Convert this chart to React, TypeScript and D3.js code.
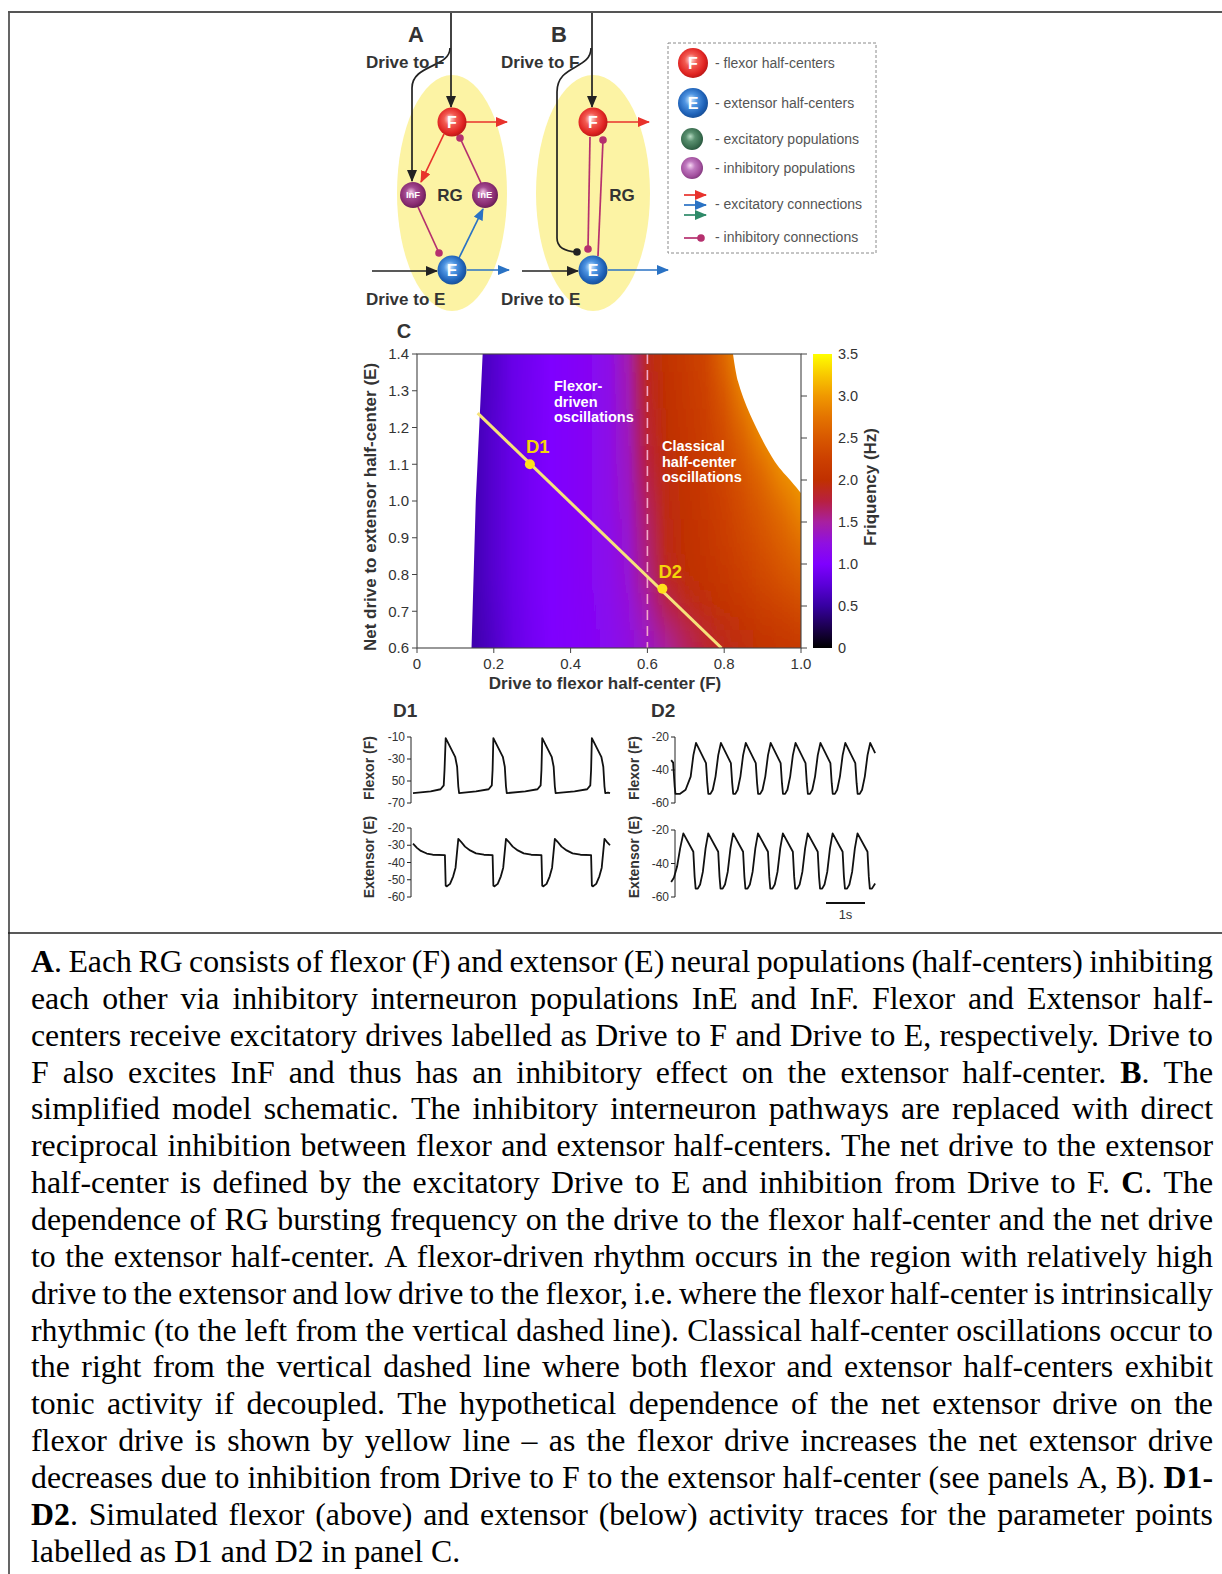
import React from 'react';
import * as d3 from 'd3';

// ---------------- Panel C data ----------------
const X_COLS = [0.15, 0.2, 0.25, 0.3, 0.35, 0.4, 0.45, 0.5, 0.55, 0.6, 0.65, 0.7, 0.75, 0.8, 0.85, 0.9, 0.95, 1.0];
const Y_ROWS = [1.4, 1.3, 1.2, 1.1, 1.0, 0.9, 0.8, 0.7, 0.6];
const FREQ_140 = [0.6, 0.7, 0.85, 0.92, 1.0, 1.05, 1.1, 1.2, 1.45, 1.9, 2.05, 2.15, 2.3, 2.65, 3.0, 3.1, 3.2, 3.3];
const FREQ_130 = [0.6, 0.7, 0.85, 0.93, 1.0, 1.05, 1.1, 1.2, 1.42, 1.85, 2.0, 2.12, 2.25, 2.5, 2.85, 3.05, 3.15, 3.25];
const FREQ_120 = [0.6, 0.72, 0.85, 0.93, 1.0, 1.05, 1.1, 1.2, 1.4, 1.8, 1.98, 2.1, 2.2, 2.4, 2.65, 2.95, 3.05, 3.15];
const FREQ_110 = [0.6, 0.72, 0.85, 0.94, 1.0, 1.05, 1.1, 1.2, 1.38, 1.75, 1.95, 2.07, 2.17, 2.32, 2.5, 2.7, 2.95, 3.05];
const FREQ_100 = [0.6, 0.72, 0.85, 0.94, 1.0, 1.05, 1.1, 1.2, 1.35, 1.68, 1.92, 2.03, 2.12, 2.25, 2.4, 2.55, 2.72, 2.92];
const FREQ_090 = [0.6, 0.72, 0.85, 0.94, 1.0, 1.05, 1.1, 1.18, 1.32, 1.62, 1.9, 2.0, 2.08, 2.2, 2.32, 2.45, 2.58, 2.72];
const FREQ_080 = [0.6, 0.72, 0.85, 0.94, 1.0, 1.05, 1.1, 1.17, 1.3, 1.58, 1.88, 1.98, 2.05, 2.13, 2.23, 2.34, 2.45, 2.55];
const FREQ_070 = [0.58, 0.7, 0.84, 0.93, 1.0, 1.04, 1.08, 1.15, 1.27, 1.45, 1.7, 1.86, 1.96, 2.03, 2.1, 2.18, 2.26, 2.33];
const FREQ_060 = [0.56, 0.68, 0.83, 0.92, 0.99, 1.03, 1.07, 1.13, 1.24, 1.35, 1.5, 1.65, 1.78, 1.88, 1.95, 2.02, 2.08, 2.12];
const FREQ_GRID = [FREQ_140, FREQ_130, FREQ_120, FREQ_110, FREQ_100, FREQ_090, FREQ_080, FREQ_070, FREQ_060];

// white (no oscillation) regions: [x, y]
const LEFT_EDGE: [number, number][] = [[0.142, 0.6], [0.153, 1.0], [0.171, 1.4]];
const UPPER_EDGE: [number, number][] = [[0.823, 1.4], [0.836, 1.325], [0.868, 1.234], [0.932, 1.107], [0.976, 1.052], [1.0, 1.022]];
const YELLOW_LINE: [number, number][] = [[0.158, 1.239], [0.793, 0.6]];
const D_POINTS = [
  { name: 'D1', x: 0.294, y: 1.1 },
  { name: 'D2', x: 0.639, y: 0.761 },
];
const DASH_X = 0.6;
const X_TICKS = [0, 0.2, 0.4, 0.6, 0.8, 1.0];
const X_TICK_LABELS = ['0', '0.2', '0.4', '0.6', '0.8', '1.0'];
const Y_TICKS = [0.6, 0.7, 0.8, 0.9, 1.0, 1.1, 1.2, 1.3, 1.4];
const CB_TICKS = [0, 0.5, 1.0, 1.5, 2.0, 2.5, 3.0, 3.5];
const CB_TICK_LABELS = ['0', '0.5', '1.0', '1.5', '2.0', '2.5', '3.0', '3.5'];
const CMAP_VALUES = [0, 0.25, 0.5, 0.75, 1.0, 1.25, 1.5, 1.75, 2.0, 2.25, 2.5, 2.75, 3.0, 3.25, 3.5];
const CMAP_COLORS = ['#000000', '#1c0050', '#3600a0', '#5a00d8', '#7f00ff', '#9010e0', '#a820a0', '#b82040',
  '#c03000', '#cc4000', '#d85800', '#e47400', '#f09800', '#f8c800', '#ffff00'];

// ---------------- Panel D data (t in s, v in mV) ----------------
const D1_FLEXOR: [number, number][] = [
  [0, -61], [0.45, -59.5], [0.7, -57.5], [0.78, -54], [0.8, -40], [0.83, -11], [1.07, -28], [1.12, -37], [1.15, -55], [1.17, -61],
  [1.6, -59.5], [1.92, -57.5], [2.0, -54], [2.02, -40], [2.04, -11], [2.28, -28], [2.33, -37], [2.36, -55], [2.38, -61],
  [2.85, -59.5], [3.16, -57.5], [3.24, -54], [3.26, -40], [3.28, -11], [3.52, -28], [3.57, -37], [3.6, -55], [3.62, -61],
  [4.1, -59.5], [4.42, -57.5], [4.5, -54], [4.52, -40], [4.54, -11], [4.78, -28], [4.83, -37], [4.86, -55], [4.88, -61],
  [4.95, -60.5], [5.0, -61],
];
const D1_EXTENSOR: [number, number][] = [
  [0, -29], [0.1, -31.5], [0.2, -33.3], [0.35, -34.8], [0.5, -35.5], [0.81, -35.7],
  [0.83, -53.5], [0.86, -53.8], [0.94, -52.4], [1.02, -48], [1.08, -43], [1.15, -26.3], [1.22, -28], [1.32, -30.8], [1.45, -33], [1.6, -34.7], [1.8, -35.5], [2.02, -35.7],
  [2.04, -53.5], [2.07, -53.8], [2.15, -52.4], [2.23, -48], [2.29, -43], [2.36, -26.3], [2.43, -28], [2.53, -30.8], [2.66, -33], [2.81, -34.7], [3.0, -35.5], [3.26, -35.7],
  [3.28, -53.5], [3.31, -53.8], [3.39, -52.4], [3.47, -48], [3.53, -43], [3.6, -26.3], [3.67, -28], [3.77, -30.8], [3.9, -33], [4.05, -34.7], [4.25, -35.5], [4.52, -35.7],
  [4.54, -53.5], [4.57, -53.8], [4.65, -52.4], [4.73, -48], [4.79, -43], [4.86, -26.3], [4.92, -28], [5.0, -30],
];
const D2_FLEXOR: [number, number][] = [
  [0.03, -34], [0.08, -35.5], [0.12, -50], [0.14, -54.5], [0.25, -54.5], [0.4, -52], [0.53, -44], [0.6, -31], [0.667, -23.6],
  [0.923, -35.8], [0.957, -48], [0.983, -54.5], [1.037, -54.5], [1.097, -52], [1.167, -44], [1.237, -31], [1.305, -23.6],
  [1.561, -35.8], [1.595, -48], [1.621, -54.5], [1.675, -54.5], [1.735, -52], [1.805, -44], [1.875, -31], [1.943, -23.6],
  [2.199, -35.8], [2.233, -48], [2.259, -54.5], [2.313, -54.5], [2.373, -52], [2.443, -44], [2.513, -31], [2.581, -23.6],
  [2.837, -35.8], [2.871, -48], [2.897, -54.5], [2.951, -54.5], [3.011, -52], [3.081, -44], [3.151, -31], [3.219, -23.6],
  [3.475, -35.8], [3.509, -48], [3.535, -54.5], [3.589, -54.5], [3.649, -52], [3.719, -44], [3.789, -31], [3.857, -23.6],
  [4.113, -35.8], [4.147, -48], [4.173, -54.5], [4.227, -54.5], [4.287, -52], [4.357, -44], [4.427, -31], [4.495, -23.6],
  [4.751, -35.8], [4.785, -48], [4.811, -54.5], [4.865, -54.5], [4.925, -52], [4.995, -44], [5.065, -31], [5.133, -23.6],
  [5.26, -29.8],
];
const D2_EXTENSOR: [number, number][] = [
  [0.03, -51], [0.1, -48.5], [0.18, -42], [0.26, -31], [0.342, -22],
  [0.598, -33], [0.632, -48], [0.658, -55], [0.712, -55], [0.772, -52.5], [0.842, -45], [0.912, -31], [0.98, -22],
  [1.236, -33], [1.27, -48], [1.296, -55], [1.35, -55], [1.41, -52.5], [1.48, -45], [1.55, -31], [1.618, -22],
  [1.874, -33], [1.908, -48], [1.934, -55], [1.988, -55], [2.048, -52.5], [2.118, -45], [2.188, -31], [2.256, -22],
  [2.512, -33], [2.546, -48], [2.572, -55], [2.626, -55], [2.686, -52.5], [2.756, -45], [2.826, -31], [2.894, -22],
  [3.15, -33], [3.184, -48], [3.21, -55], [3.264, -55], [3.324, -52.5], [3.394, -45], [3.464, -31], [3.532, -22],
  [3.788, -33], [3.822, -48], [3.848, -55], [3.902, -55], [3.962, -52.5], [4.032, -45], [4.102, -31], [4.17, -22],
  [4.426, -33], [4.46, -48], [4.486, -55], [4.54, -55], [4.6, -52.5], [4.67, -45], [4.74, -31], [4.808, -22],
  [5.064, -33], [5.098, -48], [5.124, -55], [5.178, -55], [5.26, -52],
];
const D1_FLEX_TICKS = [-10, -30, -50, -70];
const D1_FLEX_TICK_LABELS = ['-10', '-30', '50', '-70'];
const D1_EXT_TICKS = [-20, -30, -40, -50, -60];
const D2_TICKS = [-20, -40, -60];
const SCALE_BAR_S = [4.0, 5.0];

// ---------------- Caption ----------------
const CAPTION_LINES = [
  '**A**. Each RG consists of flexor (F) and extensor (E) neural populations (half-centers) inhibiting',
  'each other via inhibitory interneuron populations InE and InF. Flexor and Extensor half-',
  'centers receive excitatory drives labelled as Drive to F and Drive to E, respectively. Drive to',
  'F also excites InF and thus has an inhibitory effect on the extensor half-center. **B**. The',
  'simplified model schematic. The inhibitory interneuron pathways are replaced with direct',
  'reciprocal inhibition between flexor and extensor half-centers. The net drive to the extensor',
  'half-center is defined by the excitatory Drive to E and inhibition from Drive to F. **C**. The',
  'dependence of RG bursting frequency on the drive to the flexor half-center and the net drive',
  'to the extensor half-center. A flexor-driven rhythm occurs in the region with relatively high',
  'drive to the extensor and low drive to the flexor, i.e. where the flexor half-center is intrinsically',
  'rhythmic (to the left from the vertical dashed line). Classical half-center oscillations occur to',
  'the right from the vertical dashed line where both flexor and extensor half-centers exhibit',
  'tonic activity if decoupled. The hypothetical dependence of the net extensor drive on the',
  'flexor drive is shown by yellow line \u2013 as the flexor drive increases the net extensor drive',
  'decreases due to inhibition from Drive to F to the extensor half-center (see panels A, B). **D1-**',
  '**D2**. Simulated flexor (above) and extensor (below) activity traces for the parameter points',
  'labelled as D1 and D2 in panel C.',
];

const SANS = "'Liberation Sans', Arial, sans-serif";
const SERIF = "'Liberation Serif', 'Times New Roman', serif";
const CAP_SIZE = 31.8;
const CAP_LEFT = 31;
const CAP_RIGHT = 1213;
const CAP_Y0 = 972;
const CAP_DY = 36.85;

let _ctx: CanvasRenderingContext2D | null = null;
function measure(text: string, bold: boolean): number {
  if (!_ctx) _ctx = document.createElement('canvas').getContext('2d');
  if (!_ctx) return text.length * CAP_SIZE * 0.45;
  _ctx.font = `${bold ? 'bold ' : ''}${CAP_SIZE}px "Liberation Serif"`;
  return _ctx.measureText(text).width;
}

type Run = { text: string; bold: boolean };
function layoutCaption() {
  const out: { x: number; y: number; runs: Run[] }[] = [];
  CAPTION_LINES.forEach((line, li) => {
    let bold = false;
    const words = line.split(' ').map((w) => {
      const parts = w.split('**');
      const runs: Run[] = [];
      parts.forEach((p, k) => {
        if (k > 0) bold = !bold;
        if (p) runs.push({ text: p, bold });
      });
      const width = runs.reduce((s, r) => s + measure(r.text, r.bold), 0);
      return { runs, width };
    });
    const total = words.reduce((s, w) => s + w.width, 0);
    const last = li === CAPTION_LINES.length - 1;
    const gap = last || words.length < 2 ? measure(' ', false) : (CAP_RIGHT - CAP_LEFT - total) / (words.length - 1);
    let x = CAP_LEFT;
    const y = CAP_Y0 + li * CAP_DY;
    words.forEach((w) => {
      out.push({ x, y, runs: w.runs });
      x += w.width + gap;
    });
  });
  return out;
}

function Sphere({ cx, cy, r, grad, label, fs }: { cx: number; cy: number; r: number; grad: string; label?: string; fs?: number }) {
  return (
    <g>
      <circle cx={cx} cy={cy} r={r} fill={`url(#${grad})`} />
      {label && (
        <text x={cx} y={cy} dy="0.36em" textAnchor="middle" fill="#fff" fontFamily={SANS} fontWeight="bold" fontSize={fs || 16}>
          {label}
        </text>
      )}
    </g>
  );
}

const RED = '#e8322c';
const BLUE = '#2a72c4';
const GREEN = '#2e8a68';
const INH = '#b5306e';
const BLK = '#222';

export default function App() {
  // Panel C scales
  const xC = d3.scaleLinear().domain([0, 1]).range([417, 801]);
  const yC = d3.scaleLinear().domain([0.6, 1.4]).range([648, 354]);
  const yCB = d3.scaleLinear().domain([0, 3.5]).range([648, 354]);
  const cmap = d3.scaleLinear<string>().domain(CMAP_VALUES).range(CMAP_COLORS).interpolate(d3.interpolateRgb).clamp(true);

  const rowH = 0.1;
  const rows = Y_ROWS.map((yv, i) => {
    const top = i === 0 ? yv + rowH * 1.5 : yv + rowH / 2;
    const bot = i === Y_ROWS.length - 1 ? yv - rowH * 1.5 : yv - rowH / 2;
    return { i, y0: yC(top), y1: yC(bot) };
  });

  const lineGen = d3.line<[number, number]>().x((d) => xC(d[0])).y((d) => yC(d[1]));
  const leftWhite = `M${xC(0)},${yC(0.6)} ` + LEFT_EDGE.map((p) => `L${xC(p[0])},${yC(p[1])}`).join(' ') + ` L${xC(0)},${yC(1.4)} Z`;
  const upperCurve = d3.line<[number, number]>().x((d) => xC(d[0])).y((d) => yC(d[1])).curve(d3.curveCatmullRom.alpha(0.5))(UPPER_EDGE) || '';
  const upperWhite = upperCurve + ` L${xC(1)},${yC(1.4)} Z`;

  // Panel D scales
  const xD1 = d3.scaleLinear().domain([0, 5]).range([413, 610]);
  const xD2 = d3.scaleLinear().domain([0, 1]).range([670, 709]);
  const yD1f = d3.scaleLinear().domain([-70, -10]).range([803, 737]);
  const yD1e = d3.scaleLinear().domain([-60, -20]).range([897, 828]);
  const yD2f = d3.scaleLinear().domain([-60, -20]).range([803, 737]);
  const yD2e = d3.scaleLinear().domain([-60, -20]).range([897, 830]);
  const tr = (xs: d3.ScaleLinear<number, number>, ys: d3.ScaleLinear<number, number>, data: [number, number][]) =>
    d3.line<[number, number]>().x((d) => xs(d[0])).y((d) => ys(d[1]))(data) || '';

  const axisD = (x: number, ys: d3.ScaleLinear<number, number>, ticks: number[], labels: string[]) => (
    <g>
      <line x1={x} x2={x} y1={ys(ys.domain()[0])} y2={ys(ys.domain()[1])} stroke="#222" strokeWidth={1} />
      {ticks.map((t, k) => (
        <g key={k}>
          <line x1={x - 4} x2={x} y1={ys(t)} y2={ys(t)} stroke="#222" strokeWidth={1} />
          <text x={x - 6} y={ys(t)} dy="0.35em" textAnchor="end" fontFamily={SANS} fontSize={12} fill="#333">
            {labels[k]}
          </text>
        </g>
      ))}
    </g>
  );

  const ylab = (x: number, y: number, s: string) => (
    <text transform={`translate(${x},${y}) rotate(-90)`} textAnchor="middle" fontFamily={SANS} fontWeight="bold" fontSize={14} fill="#333">
      {s}
    </text>
  );

  const caption = layoutCaption();

  return (
    <svg width={1222} height={1574} style={{ position: 'absolute', left: 0, top: 0, background: '#fff' }}>
      <defs>
        {[
          ['gRed', '#ffe4e0', '#f25a52', '#e02422', '#b01414'],
          ['gBlue', '#d8ecff', '#4f95e2', '#1f62b8', '#164a8e'],
          ['gInh', '#f4c8e6', '#a44c92', '#872a6f', '#5e1a4e'],
          ['gPurp', '#f8d8f4', '#c07ac0', '#a2509e', '#7a3476'],
          ['gGreen', '#b8dcc4', '#5a9070', '#3a6e50', '#24503a'],
        ].map(([id, c0, c1, c2, c3]) => (
          <radialGradient key={id} id={id} cx="0.45" cy="0.45" r="0.6" fx="0.42" fy="0.38">
            <stop offset="0" stopColor={c0} />
            <stop offset="0.35" stopColor={c1} />
            <stop offset="0.75" stopColor={c2} />
            <stop offset="1" stopColor={c3} />
          </radialGradient>
        ))}
        {[['aBlk', BLK], ['aRed', RED], ['aBlue', BLUE], ['aGreen', GREEN]].map(([id, c]) => (
          <marker key={id} id={id} markerUnits="userSpaceOnUse" markerWidth={12} markerHeight={10} refX={11} refY={5} orient="auto">
            <path d="M0,0 L12,5 L0,10 Z" fill={c} />
          </marker>
        ))}
        {rows.map((r) => (
          <linearGradient key={r.i} id={`row${r.i}`} gradientUnits="userSpaceOnUse" x1={xC(0)} x2={xC(1)} y1={0} y2={0}>
            {X_COLS.map((xv, j) => (
              <stop key={j} offset={xv} stopColor={cmap(FREQ_GRID[r.i][j])} />
            ))}
          </linearGradient>
        ))}
        <linearGradient id="cbGrad" x1="0" x2="0" y1="1" y2="0">
          {CMAP_VALUES.map((v, k) => (
            <stop key={k} offset={v / 3.5} stopColor={CMAP_COLORS[k]} />
          ))}
        </linearGradient>
        <filter id="vblur" filterUnits="userSpaceOnUse" x={400} y={280} width={420} height={440}>
          <feGaussianBlur stdDeviation="0 18" />
        </filter>
        <clipPath id="plotClip">
          <rect x={xC(0)} y={yC(1.4)} width={xC(1) - xC(0)} height={yC(0.6) - yC(1.4)} />
        </clipPath>
      </defs>

      {/* frame */}
      <line x1={8} x2={1222} y1={12} y2={12} stroke="#555" strokeWidth={1.8} />
      <line x1={9} x2={9} y1={12} y2={1574} stroke="#555" strokeWidth={1.8} />
      <line x1={8} x2={1222} y1={933} y2={933} stroke="#222" strokeWidth={1.5} />

      {/* ---------- Panels A, B ---------- */}
      <ellipse cx={452} cy={193} rx={55} ry={118} fill="#fcf3a4" />
      <ellipse cx={593} cy={193} rx={57} ry={118} fill="#fcf3a4" />
      <text x={416} y={42} textAnchor="middle" fontFamily={SANS} fontWeight="bold" fontSize={22} fill="#333">A</text>
      <text x={559} y={42} textAnchor="middle" fontFamily={SANS} fontWeight="bold" fontSize={22} fill="#333">B</text>
      <g fill="none" strokeWidth={1.7}>
        {/* A */}
        <path d="M451,13 L451,107" stroke={BLK} markerEnd="url(#aBlk)" />
        <path d="M450,48 C450,68 412,64 412,88 L412,181" stroke={BLK} markerEnd="url(#aBlk)" />
        <path d="M466,122 L507,122" stroke={RED} markerEnd="url(#aRed)" />
        <path d="M444,134 L421,182" stroke={RED} markerEnd="url(#aRed)" />
        <path d="M481,183 L460,138" stroke={INH} />
        <path d="M418,207 L439,253" stroke={INH} />
        <path d="M459,258 L483,209" stroke={BLUE} markerEnd="url(#aBlue)" />
        <path d="M372,271 L437,271" stroke={BLK} markerEnd="url(#aBlk)" />
        <path d="M467,270 L509,270" stroke={BLUE} markerEnd="url(#aBlue)" />
        {/* B */}
        <path d="M592,13 L592,107" stroke={BLK} markerEnd="url(#aBlk)" />
        <path d="M591,48 C591,70 557,64 557,92 L557,238 Q557,251 577,252" stroke={BLK} />
        <path d="M590,137 L588,249" stroke={INH} />
        <path d="M598,256 L603,140" stroke={INH} />
        <path d="M607,122 L649,122" stroke={RED} markerEnd="url(#aRed)" />
        <path d="M522,271 L578,271" stroke={BLK} markerEnd="url(#aBlk)" />
        <path d="M608,270 L668,270" stroke={BLUE} markerEnd="url(#aBlue)" />
      </g>
      <g fontFamily={SANS} fontWeight="bold" fontSize={17} fill="#333">
        <text x={366} y={68}>Drive to F</text>
        <text x={366} y={305}>Drive to E</text>
        <text x={501} y={68}>Drive to F</text>
        <text x={501} y={305}>Drive to E</text>
        <text x={450} y={195} dy="0.35em" textAnchor="middle">RG</text>
        <text x={622} y={195} dy="0.35em" textAnchor="middle">RG</text>
      </g>
      <circle cx={460} cy={138} r={3.8} fill={INH} />
      <circle cx={439} cy={253} r={3.8} fill={INH} />
      <circle cx={577} cy={252} r={3.8} fill={BLK} />
      <circle cx={588} cy={249} r={3.8} fill={INH} />
      <circle cx={603} cy={140} r={3.8} fill={INH} />
      <Sphere cx={452} cy={122} r={14.5} grad="gRed" label="F" />
      <Sphere cx={452} cy={270} r={14.5} grad="gBlue" label="E" />
      <Sphere cx={413} cy={195} r={13} grad="gInh" label="InF" fs={9.5} />
      <Sphere cx={485} cy={195} r={13} grad="gInh" label="InE" fs={9.5} />
      <Sphere cx={593} cy={122} r={14.5} grad="gRed" label="F" />
      <Sphere cx={593} cy={270} r={14.5} grad="gBlue" label="E" />

      {/* legend */}
      <rect x={668} y={43} width={208} height={210} fill="none" stroke="#8a8a8a" strokeDasharray="3,2" strokeWidth={1} />
      <Sphere cx={693} cy={63} r={15} grad="gRed" label="F" />
      <Sphere cx={693} cy={103} r={15} grad="gBlue" label="E" />
      <Sphere cx={692} cy={139} r={11} grad="gGreen" />
      <Sphere cx={692} cy={168} r={11} grad="gPurp" />
      <g fill="none" strokeWidth={1.7}>
        <path d="M684,195 L706,195" stroke={RED} markerEnd="url(#aRed)" />
        <path d="M684,205 L706,205" stroke={BLUE} markerEnd="url(#aBlue)" />
        <path d="M684,215 L706,215" stroke={GREEN} markerEnd="url(#aGreen)" />
        <path d="M684,238 L701,238" stroke={INH} />
      </g>
      <circle cx={701} cy={238} r={3.8} fill={INH} />
      <g fontFamily={SANS} fontSize={14} fill="#555">
        <text x={715} y={68}>- flexor half-centers</text>
        <text x={715} y={108}>- extensor half-centers</text>
        <text x={715} y={144}>- excitatory populations</text>
        <text x={715} y={173}>- inhibitory populations</text>
        <text x={715} y={209}>- excitatory connections</text>
        <text x={715} y={242}>- inhibitory connections</text>
      </g>

      {/* ---------- Panel C ---------- */}
      <text x={404} y={338} textAnchor="middle" fontFamily={SANS} fontWeight="bold" fontSize={20} fill="#333">C</text>
      <g clipPath="url(#plotClip)">
        <g filter="url(#vblur)">
          {rows.map((r) => (
            <rect key={r.i} x={xC(0) - 5} y={r.y0} width={xC(1) - xC(0) + 10} height={r.y1 - r.y0 + 0.5} fill={`url(#row${r.i})`} />
          ))}
        </g>
        <path d={leftWhite} fill="#fff" />
        <path d={upperWhite} fill="#fff" />
        <line x1={xC(DASH_X)} x2={xC(DASH_X)} y1={yC(1.4)} y2={yC(0.6)} stroke="#f2a8cc" strokeWidth={1.6} strokeDasharray="10,6" />
        <path d={lineGen(YELLOW_LINE) || ''} stroke="#f6e27a" strokeWidth={3} fill="none" />
      </g>
      {D_POINTS.map((p) => (
        <g key={p.name}>
          <circle cx={xC(p.x)} cy={yC(p.y)} r={5} fill="#ffe21a" />
          <text x={xC(p.x) - 4} y={yC(p.y) - 11} fontFamily={SANS} fontWeight="bold" fontSize={18.5} fill="#f4d40a">
            {p.name}
          </text>
        </g>
      ))}
      <g fontFamily={SANS} fontWeight="bold" fontSize={14.5} fill="#fff">
        <text x={554} y={391}>Flexor-</text>
        <text x={554} y={407}>driven</text>
        <text x={554} y={422}>oscillations</text>
        <text x={662} y={451}>Classical</text>
        <text x={662} y={467}>half-center</text>
        <text x={662} y={482}>oscillations</text>
      </g>
      <rect x={xC(0)} y={yC(1.4)} width={xC(1) - xC(0)} height={yC(0.6) - yC(1.4)} fill="none" stroke="#444" strokeWidth={1.1} />
      {Y_TICKS.map((t) => (
        <g key={t}>
          <line x1={xC(0) - 5} x2={xC(0)} y1={yC(t)} y2={yC(t)} stroke="#444" />
          <text x={xC(0) - 8} y={yC(t)} dy="0.35em" textAnchor="end" fontFamily={SANS} fontSize={15} fill="#333">
            {t.toFixed(1)}
          </text>
        </g>
      ))}
      {X_TICKS.map((t, k) => (
        <g key={t}>
          <line x1={xC(t)} x2={xC(t)} y1={yC(0.6)} y2={yC(0.6) + 5} stroke="#444" />
          <text x={xC(t)} y={yC(0.6) + 21} textAnchor="middle" fontFamily={SANS} fontSize={15} fill="#333">
            {X_TICK_LABELS[k]}
          </text>
        </g>
      ))}
      {CB_TICKS.map((t) => (
        <line key={t} x1={xC(1)} x2={xC(1) + 6} y1={yCB(t)} y2={yCB(t)} stroke="#444" />
      ))}
      <text x={(xC(0) + xC(1)) / 2 - 4} y={689} textAnchor="middle" fontFamily={SANS} fontWeight="bold" fontSize={17} fill="#333">
        Drive to flexor half-center (F)
      </text>
      <text transform={`translate(376,${(yC(0.6) + yC(1.4)) / 2 + 6}) rotate(-90)`} textAnchor="middle" fontFamily={SANS} fontWeight="bold" fontSize={17} fill="#333">
        Net drive to extensor half-center (E)
      </text>
      <rect x={813} y={yCB(3.5)} width={19} height={yCB(0) - yCB(3.5)} fill="url(#cbGrad)" />
      {CB_TICKS.map((t, k) => (
        <text key={t} x={838} y={yCB(t)} dy="0.35em" fontFamily={SANS} fontSize={14.5} fill="#333">
          {CB_TICK_LABELS[k]}
        </text>
      ))}
      <text transform={`translate(876,487) rotate(-90)`} textAnchor="middle" fontFamily={SANS} fontWeight="bold" fontSize={17} fill="#333">
        Friquency (Hz)
      </text>

      {/* ---------- Panel D ---------- */}
      <text x={393} y={717} fontFamily={SANS} fontWeight="bold" fontSize={19} fill="#333">D1</text>
      <text x={651} y={717} fontFamily={SANS} fontWeight="bold" fontSize={19} fill="#333">D2</text>
      {axisD(411, yD1f, D1_FLEX_TICKS, D1_FLEX_TICK_LABELS)}
      {axisD(411, yD1e, D1_EXT_TICKS, D1_EXT_TICKS.map(String))}
      {axisD(675, yD2f, D2_TICKS, D2_TICKS.map(String))}
      {axisD(675, yD2e, D2_TICKS, D2_TICKS.map(String))}
      {ylab(374, 768, 'Flexor (F)')}
      {ylab(374, 857, 'Extensor (E)')}
      {ylab(639, 768, 'Flexor (F)')}
      {ylab(639, 857, 'Extensor (E)')}
      <g fill="none" stroke="#111" strokeWidth={1.8} strokeLinejoin="round">
        <path d={tr(xD1, yD1f, D1_FLEXOR)} />
        <path d={tr(xD1, yD1e, D1_EXTENSOR)} />
        <path d={tr(xD2, yD2f, D2_FLEXOR)} />
        <path d={tr(xD2, yD2e, D2_EXTENSOR)} />
      </g>
      <line x1={xD2(SCALE_BAR_S[0])} x2={xD2(SCALE_BAR_S[1])} y1={903} y2={903} stroke="#111" strokeWidth={1.8} />
      <text x={(xD2(SCALE_BAR_S[0]) + xD2(SCALE_BAR_S[1])) / 2} y={919} textAnchor="middle" fontFamily={SANS} fontSize={13} fill="#333">
        1s
      </text>

      {/* ---------- Caption ---------- */}
      <g fontFamily={SERIF} fontSize={CAP_SIZE} fill="#000">
        {caption.map((w, k) => (
          <text key={k} x={w.x} y={w.y}>
            {w.runs.map((r, j) => (
              <tspan key={j} fontWeight={r.bold ? 'bold' : 'normal'}>
                {r.text}
              </tspan>
            ))}
          </text>
        ))}
      </g>
    </svg>
  );
}
